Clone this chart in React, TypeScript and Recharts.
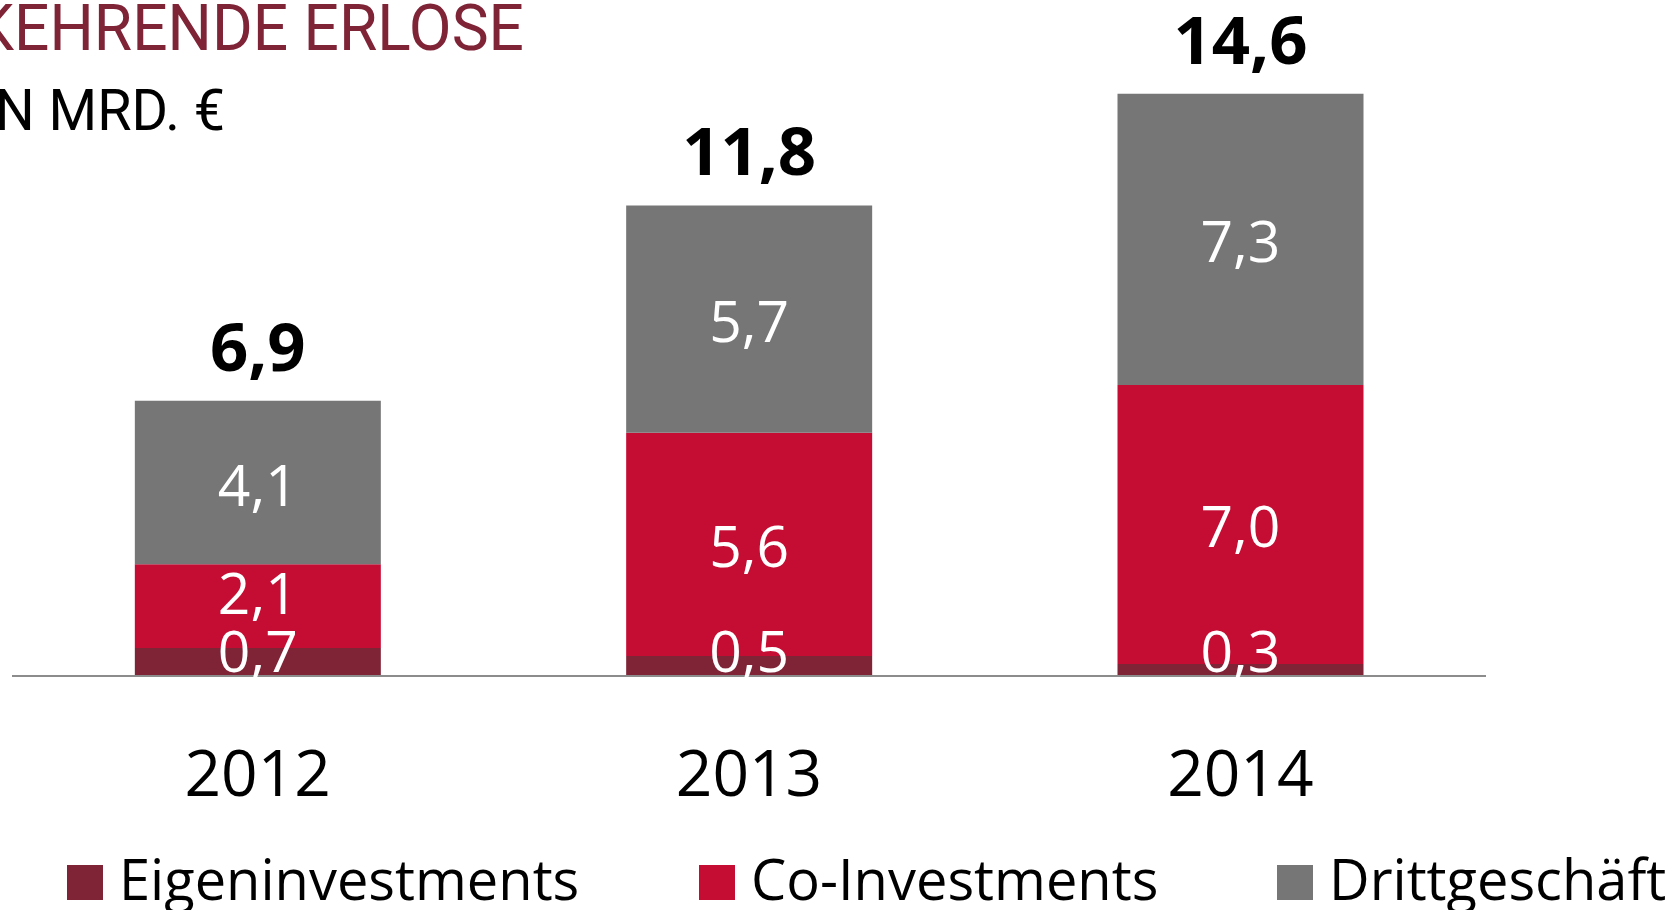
import { Bar, BarChart, LabelList, XAxis, YAxis } from 'recharts';

// Wiederkehrende Erlöse in Mrd. € — stacked by business line
const YEARS = ['2012', '2013', '2014'];
const EIGEN = [0.7, 0.5, 0.3];
const CO = [2.1, 5.6, 7.0];
const DRITT = [4.1, 5.7, 7.3];
const TOTALS = [6.9, 11.8, 14.6];
const SERIES_NAMES = ['Eigeninvestments', 'Co-Investments', 'Drittgeschäft'];

const MAROON = '#7f2337';
const RED = '#c50d34';
const GREY = '#767676';
const AXIS_GREY = '#8c8c8c';
const SERIES_COLORS = [MAROON, RED, GREY];
const FONT = '"Open Sans", "Noto Sans", sans-serif';

const WIDTH = 1679;
const HEIGHT = 910;
// x axis keeps its default 30px band, so the plot bottom ends up at 676
const MARGIN = { top: 38, right: 193, bottom: 204, left: 12 };
const AXIS_Y = 676;

const data = YEARS.map((year, i) => ({
  year,
  eigen: EIGEN[i],
  co: CO[i],
  dritt: DRITT[i],
  total: TOTALS[i],
}));

const fmt = (v: number) => v.toFixed(1).replace('.', ',');

// white figure in the middle of a segment; small segments get pushed up like in Excel
const segmentLabel = (maxCenter?: number) => (props: any) => {
  const { x, y, width, height, value } = props;
  let cy = Number(y) + Number(height) / 2 + 3;
  if (maxCenter !== undefined) cy = Math.min(cy, maxCenter);
  return (
    <text
      x={Number(x) + Number(width) / 2}
      y={cy + 20}
      textAnchor="middle"
      fill="#fff"
      fontFamily={FONT}
      fontSize={57}
    >
      {fmt(Number(value))}
    </text>
  );
};

const totalLabel = (props: any) => {
  const { x, y, width, index } = props;
  return (
    <text
      x={Number(x) + Number(width) / 2}
      y={Number(y) - 30}
      textAnchor="middle"
      fill="#000"
      fontFamily={FONT}
      fontWeight={700}
      fontSize={67}
    >
      {fmt(TOTALS[index])}
    </text>
  );
};

const YearTick = (props: any) => {
  const { x, y, payload } = props;
  return (
    <text x={x} y={Number(y) + 120} textAnchor="middle" fill="#000" fontFamily={FONT} fontSize={64}>
      {payload.value}
    </text>
  );
};

function ChartLegend() {
  const slotWidths = [632, 578, 402];
  return (
    <div
      style={{
        position: 'absolute',
        left: 0,
        top: 850,
        width: WIDTH,
        display: 'flex',
        paddingLeft: 67,
        boxSizing: 'border-box',
        fontFamily: FONT,
        fontSize: 56,
        lineHeight: '56px',
        color: '#000',
      }}
    >
      {SERIES_NAMES.map((name, i) => (
        <div key={name} style={{ width: slotWidths[i], whiteSpace: 'nowrap', flexShrink: 0 }}>
          <span
            style={{
              display: 'inline-block',
              width: 36,
              height: 35,
              background: SERIES_COLORS[i],
              marginRight: 16,
            }}
          />
          {name}
        </div>
      ))}
    </div>
  );
}

export default function App() {
  return (
    <div style={{ position: 'absolute', left: 0, top: 0, width: WIDTH, height: HEIGHT, background: '#fff', overflow: 'hidden' }}>
      <BarChart width={WIDTH} height={HEIGHT} data={data} margin={MARGIN} barCategoryGap="25%">
        <XAxis
          dataKey="year"
          tickLine={false}
          tickSize={0}
          tickMargin={0}
          axisLine={{ stroke: AXIS_GREY, strokeWidth: 2 }}
          tick={<YearTick />}
          interval={0}
        />
        <YAxis hide domain={[0, 16]} />
        <Bar dataKey="eigen" name={SERIES_NAMES[0]} stackId="a" fill={MAROON} isAnimationActive={false}>
          <LabelList dataKey="eigen" content={segmentLabel(AXIS_Y - 24)} />
        </Bar>
        <Bar dataKey="co" name={SERIES_NAMES[1]} stackId="a" fill={RED} isAnimationActive={false}>
          <LabelList dataKey="co" content={segmentLabel(AXIS_Y - 82)} />
        </Bar>
        <Bar dataKey="dritt" name={SERIES_NAMES[2]} stackId="a" fill={GREY} isAnimationActive={false}>
          <LabelList dataKey="dritt" content={segmentLabel()} />
          <LabelList dataKey="total" content={totalLabel} />
        </Bar>
      </BarChart>
      <ChartLegend />
      <svg
        width={WIDTH}
        height={150}
        style={{ position: 'absolute', left: 0, top: 0, pointerEvents: 'none' }}
      >
        <text
          x={-25}
          y={50}
          textLength={549}
          lengthAdjust="spacingAndGlyphs"
          fill={MAROON}
          fontFamily="Roboto, sans-serif"
          fontWeight={400}
          fontSize={65}
        >
          KEHRENDE ERLOSE
        </text>
        <text
          x={-5}
          y={130}
          textLength={230}
          lengthAdjust="spacingAndGlyphs"
          fill="#000"
          fontFamily="Roboto, sans-serif"
          fontWeight={400}
          fontSize={58}
        >
          N MRD. €
        </text>
      </svg>
    </div>
  );
}
